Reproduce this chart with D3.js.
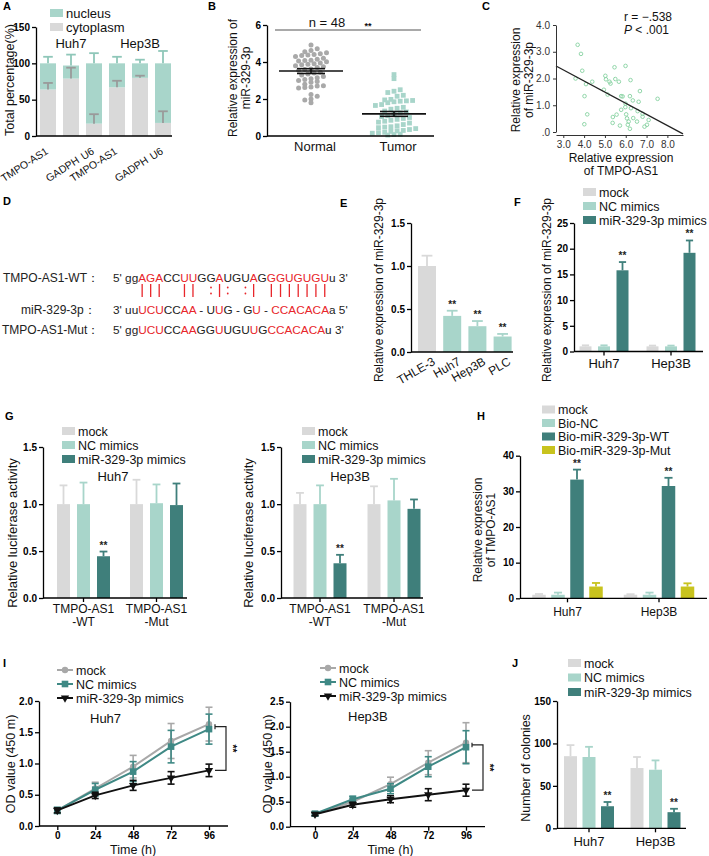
<!DOCTYPE html>
<html><head><meta charset="utf-8">
<script src="https://cdn.jsdelivr.net/npm/d3@7"></script>
<style>
body{margin:0;background:#fff;}
svg{display:block;}
text{white-space:pre;}
</style></head><body>
<svg id="c" width="709" height="856"></svg>
<script>
// ================= DATA =================
// A
const aCats = ["TMPO-AS1","GADPH","U6","TMPO-AS1","GADPH","U6"];
const aCells = ["Huh7","Hep3B"];
const aCyto = [64,79,17,67,80,18];
const aCytoErr = [9,15,13,9,3,16];
const aNuc = [36,18,83,33,20,82];
const aNucErr = [9,15,14,9,5,17];
const aTicks = [0,50,100,150];
// B
const bCats = ["Normal","Tumor"];
const bNormal = [4.92,4.72,4.62,4.55,4.5,4.45,4.4,4.38,4.35,4.3,4.2,4.15,4.1,4.08,4.05,4.02,3.95,3.9,3.88,3.85,3.8,3.75,3.7,3.62,3.6,3.55,3.45,3.4,3.35,3.3,3.22,3.15,3.1,3.05,3.0,2.95,2.9,2.8,2.72,2.7,2.65,2.62,2.6,2.25,2.15,2.0,1.95,1.8];
const bTumor = [3.32,3.1,2.5,2.42,2.35,2.2,2.15,1.98,1.95,1.92,1.9,1.88,1.85,1.8,1.7,1.65,1.55,1.5,1.45,1.35,1.3,1.25,1.2,1.1,1.05,1.0,0.95,0.9,0.85,0.8,0.75,0.7,0.62,0.55,0.5,0.48,0.45,0.4,0.35,0.3,0.28,0.25,0.2,0.18,0.15,0.1,0.08,0.05];
const bSem = [0.13,0.13];
const bTicks = [0,2,4,6];
// C
const cTmpo = [3.69,3.85,3.91,3.59,4.09,4.39,4.02,4.15,4.01,5.02,5.05,5.22,5.27,5.46,5.5,5.67,5.99,6.23,4.95,5.13,5.78,5.85,6.2,6.68,6.34,6.62,7.53,5.99,5.78,5.98,6.25,6.57,6.81,6.81,5.38,5.37,5.72,6.06,6.14,6.1,6.2,6.54,6.9,7.02,7.1,6.02,6.36,5.56];
const cMir  = [3.26,2.92,2.29,2.0,1.79,1.88,1.34,0.66,0.29,2.1,1.97,1.88,1.81,2.42,1.98,1.88,2.47,1.94,1.58,1.4,1.34,1.33,1.34,1.53,1.18,1.13,1.24,1.06,0.83,0.93,0.89,0.78,0.68,0.57,0.56,0.34,0.24,0.51,0.39,0.27,0.12,0.39,0.2,0.27,0.45,0.66,0.52,0.65];
const cFit = [3.57,-0.416]; // intercept, slope
const cXTicks = [3,4,5,6,7,8];
const cYTicks = [0,1,2,3,4];
// D
const dWT  = [["5' gg",0],["AGA",1],["CC",0],["UU",1],["GG",0],["A",1],["UGU",0],["A",1],["G",0],["GGUGUGU",1],["u 3'",0]];
const dMir = [["3' uu",0],["UCU",1],["CC",0],["AA",1],[" - U",0],["U",1],["G - G",0],["U",1],[" - ",0],["CCACACA",1],["a 5'",0]];
const dMut = [["5' gg",0],["UCU",1],["CC",0],["AA",1],["GG",0],["U",1],["UGU",0],["U",1],["G",0],["CCACACA",1],["u 3'",0]];
const dPairs = ["|","|","|"," "," ","|","|"," ",":","|",":"," ",":","|"," ","|","|","|","|","|","|","|"];
// E
const eCats = ["THLE-3","Huh7","Hep3B","PLC"];
const eVals = [1.0,0.42,0.30,0.18];
const eErr = [0.12,0.06,0.06,0.03];
const eTicks = [0,0.5,1.0,1.5];
// F
const fGroups = ["Huh7","Hep3B"];
const fSeries = ["mock","NC mimics","miR-329-3p mimics"];
const fVals = [[1,1,15.8],[1,1,19.2]];
const fErr = [[0.2,0.2,1.6],[0.15,0.15,2.4]];
const fTicks = [0,5,10,15,20,25];
// G
const gGroups = ["TMPO-AS1\n-WT","TMPO-AS1\n-Mut"];
const gSeries = ["mock","NC mimics","miR-329-3p mimics"];
const gHuh7Vals = [[1,1,0.445],[1,1.01,0.99]];
const gHuh7Err  = [[0.2,0.23,0.05],[0.26,0.2,0.23]];
const gHep3bVals = [[1,1,0.37],[1,1.04,0.95]];
const gHep3bErr  = [[0.12,0.2,0.09],[0.19,0.23,0.1]];
const gTicks = [0,0.5,1.0,1.5];
// H
const hGroups = ["Huh7","Hep3B"];
const hSeries = ["mock","Bio-NC","Bio-miR-329-3p-WT","Bio-miR-329-3p-Mut"];
const hVals = [[1,1,33.3,3.3],[1,1,31.5,3.3]];
const hErr  = [[0.2,0.6,2.8,1.0],[0.15,0.6,2.3,0.9]];
const hTicks = [0,10,20,30,40];
// I
const iTimes = [0,24,48,72,96];
const iSeries = ["mock","NC mimics","miR-329-3p mimics"];
const iHuh7Mock = [0.25,0.6,0.95,1.36,1.63];   const iHuh7MockErr = [0.04,0.1,0.18,0.28,0.27];
const iHuh7NC   = [0.25,0.58,0.87,1.27,1.55];  const iHuh7NCErr   = [0.05,0.1,0.16,0.26,0.24];
const iHuh7Mir  = [0.25,0.49,0.65,0.77,0.89];  const iHuh7MirErr  = [0.04,0.05,0.08,0.1,0.1];
const iHep3bMock = [0.25,0.5,0.85,1.28,1.68];  const iHep3bMockErr = [0.03,0.06,0.14,0.24,0.4];
const iHep3bNC   = [0.26,0.55,0.76,1.2,1.59];  const iHep3bNCErr   = [0.04,0.06,0.1,0.2,0.33];
const iHep3bMir  = [0.25,0.44,0.55,0.64,0.73]; const iHep3bMirErr  = [0.03,0.05,0.07,0.12,0.12];
const iTicksHuh7 = [0,0.5,1.0,1.5,2.0];
const iTicksHep3b = [0,0.5,1.0,1.5,2.0,2.5];
// J
const jGroups = ["Huh7","Hep3B"];
const jVals = [[85,84,26],[71,69,19]];
const jErr  = [[13,12,5],[13,11,4]];
const jTicks = [0,50,100,150];

// ================= STYLE =================
const FONT = '"Liberation Sans", Arial, Helvetica, sans-serif';
const GREY = "#d9d9d9", MINT = "#a8d5ca", TEAL = "#3f7f7b", OLIVE = "#c8c31e", RED = "#e8262b";
const svg = d3.select("#c").attr("font-family", FONT);
const fmtInt = d3.format("d"), fmt1 = d3.format(".1f");

function txt(g, x, y, s, o = {}) {
  const t = g.append("text").attr("x", x).attr("y", y).text(s)
    .attr("font-size", o.fs || 12).attr("fill", o.fill || "#111")
    .attr("text-anchor", o.anchor || "start");
  if (o.fw) t.attr("font-weight", o.fw);
  if (o.tr) t.attr("transform", o.tr);
  return t;
}
function vlabel(g, bx, cy, s, fs) {
  return g.append("text").attr("transform", `translate(${bx},${cy}) rotate(-90)`)
    .attr("text-anchor", "middle").attr("font-size", fs || 12).attr("fill", "#111").text(s);
}
function letter(x, y, s) { txt(svg, x, y, s, {fs: 11, fw: "bold", fill: "#000"}); }
function yAxis(g, scale, x, ticks, fmt, o = {}) {
  const ax = d3.axisLeft(scale).tickValues(ticks).tickSize(o.ts || 4).tickSizeOuter(0).tickPadding(2).tickFormat(fmt || fmtInt);
  const s = g.append("g").attr("transform", `translate(${x},0)`).call(ax);
  s.attr("font-family", FONT).attr("font-size", o.fs || 10).attr("font-weight", o.fw || "bold");
  s.select(".domain").attr("stroke", "#000").attr("stroke-width", 1.3);
  s.selectAll(".tick line").attr("stroke", "#000").attr("stroke-width", 1.3);
  s.selectAll(".tick text").attr("fill", "#000");
  return s;
}
function xLine(g, x0, x1, y, ticksAt) {
  g.append("line").attr("x1", x0).attr("x2", x1).attr("y1", y).attr("y2", y)
    .attr("stroke", "#000").attr("stroke-width", 1.3);
  (ticksAt || []).forEach(t => g.append("line").attr("x1", t).attr("x2", t).attr("y1", y).attr("y2", y + 4)
    .attr("stroke", "#000").attr("stroke-width", 1.3));
}
function legendRects(g, x, y0, dy, names, colors, fs) {
  names.forEach((n, i) => {
    const yc = y0 + i * dy;
    g.append("rect").attr("x", x).attr("y", yc - 4).attr("width", 13).attr("height", 8).attr("fill", colors[i]);
    txt(g, x + 16, yc + 4.5, n, {fs: fs || 12});
  });
}
function errBar(g, x, yv, ye, w, col) {
  g.append("line").attr("x1", x).attr("x2", x).attr("y1", yv).attr("y2", ye).attr("stroke", col).attr("stroke-width", 1.8);
  g.append("line").attr("x1", x - w / 2).attr("x2", x + w / 2).attr("y1", ye).attr("y2", ye).attr("stroke", col).attr("stroke-width", 1.8);
}
function stars(g, x, y) { txt(g, x, y, "**", {fs: 10, anchor: "middle", fw: "bold", fill: "#222"}); }

function groupedBars(o) {
  const g = svg.append("g");
  const gx = d3.scalePoint().domain(o.groups).range(o.centers);
  const L = o.step * o.series.length, p = 1 - o.bw / o.step;
  const sx = d3.scaleBand().domain(o.series).range([-L / 2, L / 2]).paddingInner(p).paddingOuter(p / 2);
  o.groups.forEach((grp, gi) => {
    o.series.forEach((s, si) => {
      const v = o.vals[gi][si], e = o.errs[gi][si];
      const x = gx(grp) + sx(s), cx = x + sx.bandwidth() / 2;
      g.append("rect").attr("x", x).attr("y", o.y(v)).attr("width", sx.bandwidth())
        .attr("height", o.y(0) - o.y(v)).attr("fill", o.colors[si]);
      errBar(g, cx, o.y(v), o.y(v + e), sx.bandwidth() * 0.6, o.colors[si]);
      if (o.sig && o.sig[si]) stars(g, cx, o.y(v + e) - 3);
    });
  });
  yAxis(g, o.y, o.axisX0, o.ticks, o.fmt);
  xLine(g, o.axisX0, o.axisX1, o.y(0), o.groups.map(d => gx(d)));
  o.groups.forEach(grp => {
    grp.split("\n").forEach((ln, li) => txt(g, gx(grp), o.labelY + li * 13, ln, {fs: o.labelFs || 12, anchor: "middle"}));
  });
  return g;
}

// ================= PANEL A =================
{
  const g = svg.append("g");
  letter(3, 10, "A");
  const y = d3.scaleLinear().domain([0, 150]).range([136, 27]);
  const x = d3.scaleBand().domain(d3.range(aCats.length)).range([36.5, 174.5]).paddingInner(1 - 16 / 23).paddingOuter((1 - 16 / 23) / 2);
  aCats.forEach((c, i) => {
    const bx = x(i), bw = x.bandwidth(), cx = bx + bw / 2;
    const cy = aCyto[i], tot = aCyto[i] + aNuc[i];
    g.append("rect").attr("x", bx).attr("y", y(cy)).attr("width", bw).attr("height", y(0) - y(cy)).attr("fill", GREY);
    g.append("rect").attr("x", bx).attr("y", y(tot)).attr("width", bw).attr("height", y(cy) - y(tot)).attr("fill", MINT);
    errBar(g, cx, y(tot), y(tot + aNucErr[i]), bw * 0.6, "#8fc7b9");
    errBar(g, cx, y(cy), y(cy + aCytoErr[i]), bw * 0.6, "#9a9a9a");
    const isG = c === "GADPH";
    txt(g, 0, 0, c, {fs: 10.5, anchor: "end", tr: `translate(${cx + (isG ? 9 : 1)},${isG ? 162 : 153}) rotate(-33)`});
  });
  yAxis(g, y, 36, aTicks);
  xLine(g, 36, 172, 136);
  vlabel(g, 14, 80, "Total percentage(%)", 12.5);
  txt(g, (x(0) + x(2) + x.bandwidth()) / 2, 48, aCells[0], {fs: 13, anchor: "middle"});
  txt(g, (x(3) + x(5) + x.bandwidth()) / 2, 48, aCells[1], {fs: 13, anchor: "middle"});
  legendRects(g, 50, 13, 14, ["nucleus", "cytoplasm"], [MINT, GREY], 13);
}

// ================= PANEL B =================
{
  const g = svg.append("g");
  letter(208, 10, "B");
  const y = d3.scaleLinear().domain([0, 6]).range([136, 25]);
  const x = d3.scalePoint().domain(bCats).range([311, 394]);
  function swarm(vals, bin, dx) {
    const grouped = d3.group(vals, v => Math.round(v / bin));
    const out = [];
    for (const [, arr] of grouped) {
      const n = arr.length;
      arr.slice().sort((a, b) => a - b).forEach((v, j) => out.push({v, off: (j - (n - 1) / 2) * dx}));
    }
    return out;
  }
  swarm(bNormal, 0.26, 6.2).forEach(d => g.append("circle").attr("cx", x("Normal") + d.off).attr("cy", y(d.v)).attr("r", 2.5).attr("fill", "#a9a9a9"));
  swarm(bTumor, 0.3, 6.2).forEach(d => g.append("rect").attr("x", x("Tumor") + d.off - 2.4).attr("y", y(d.v) - 2.4).attr("width", 4.8).attr("height", 4.8).attr("fill", MINT));
  [bNormal, bTumor].forEach((arr, i) => {
    const cx = x(bCats[i]), m = d3.mean(arr), s = bSem[i];
    g.append("line").attr("x1", cx - 32).attr("x2", cx + 32).attr("y1", y(m)).attr("y2", y(m)).attr("stroke", "#111").attr("stroke-width", 1.6);
    g.append("line").attr("x1", cx).attr("x2", cx).attr("y1", y(m - s)).attr("y2", y(m + s)).attr("stroke", "#111").attr("stroke-width", 1.6);
    [m - s, m + s].forEach(v => g.append("line").attr("x1", cx - 14).attr("x2", cx + 14).attr("y1", y(v)).attr("y2", y(v)).attr("stroke", "#111").attr("stroke-width", 1.6));
  });
  yAxis(g, y, 267, bTicks);
  xLine(g, 267, 434, 136);
  bCats.forEach(c => txt(g, x(c) + 4, 151, c, {fs: 13, anchor: "middle"}));
  g.append("line").attr("x1", 275).attr("x2", 421).attr("y1", 30).attr("y2", 30).attr("stroke", "#555").attr("stroke-width", 1.2);
  txt(g, 327, 27, "n = 48", {fs: 13, anchor: "middle"});
  txt(g, 368, 29, "**", {fs: 9, anchor: "middle", fw: "bold"});
  vlabel(g, 237, 78, "Relative expression of", 12);
  vlabel(g, 250, 78, "miR-329-3p", 12);
}

// ================= PANEL C =================
{
  const g = svg.append("g");
  letter(482, 10, "C");
  const x = d3.scaleLinear().domain([2.65, 8.75]).range([556, 683]);
  const y = d3.scaleLinear().domain([0, 4]).range([132, 25]);
  cTmpo.forEach((v, i) => g.append("circle").attr("cx", x(v)).attr("cy", y(cMir[i])).attr("r", 1.8)
    .attr("fill", "none").attr("stroke", "#86d1a0").attr("stroke-width", 0.9));
  const xs = x.domain();
  g.append("line").attr("x1", x(xs[0])).attr("x2", x(xs[1]))
    .attr("y1", y(cFit[0] + cFit[1] * xs[0])).attr("y2", y(cFit[0] + cFit[1] * xs[1]))
    .attr("stroke", "#222").attr("stroke-width", 1.3);
  const ya = d3.axisLeft(y).tickValues(cYTicks).tickSize(3).tickSizeOuter(0).tickFormat(d => d === 0 ? ".0" : d.toFixed(1));
  const ys = g.append("g").attr("transform", "translate(556,0)").call(ya).attr("font-family", FONT).attr("font-size", 10);
  ys.selectAll("path,line").attr("stroke", "#333");
  ys.selectAll("text").attr("fill", "#333");
  const xa = d3.axisBottom(x).tickValues(cXTicks).tickSize(3).tickSizeOuter(0).tickFormat(d => d.toFixed(1));
  const xsx = g.append("g").attr("transform", "translate(0,135)").call(xa).attr("font-family", FONT).attr("font-size", 10);
  xsx.selectAll("path,line").attr("stroke", "#333");
  xsx.selectAll("text").attr("fill", "#333");
  txt(g, 624, 21, "r = \u2212.538", {fs: 12});
  const t = txt(g, 624, 34, "", {fs: 12});
  t.append("tspan").attr("font-style", "italic").text("P");
  t.append("tspan").text(" < .001");
  vlabel(g, 520, 80, "Relative expression", 12);
  vlabel(g, 533, 80, "of miR-329-3p", 12);
  txt(g, 621, 162, "Relative expression", {fs: 12, anchor: "middle"});
  txt(g, 621, 175, "of TMPO-AS1", {fs: 12, anchor: "middle"});
}

// ================= PANEL D =================
{
  const g = svg.append("g");
  letter(3, 205, "D");
  txt(g, 3, 282, "TMPO-AS1-WT\uFF1A", {fs: 12, fill: "#222"});
  txt(g, 21, 314, "miR-329-3p\uFF1A", {fs: 12, fill: "#222"});
  txt(g, 2, 334, "TMPO-AS1-Mut\uFF1A", {fs: 12, fill: "#222"});
  function seq(y, parts) {
    const t = g.append("text").attr("x", 113).attr("y", y).attr("font-size", 11.8);
    parts.forEach(([s, c]) => t.append("tspan").text(s).attr("fill", c ? RED : "#222"));
    return t;
  }
  const wt = seq(282, dWT);
  seq(314, dMir);
  seq(334, dMut);
  const node = wt.node();
  dPairs.forEach((p, j) => {
    if (p === " ") return;
    const e = node.getExtentOfChar(5 + j);
    const cx = e.x + e.width / 2;
    if (p === "|") g.append("line").attr("x1", cx).attr("x2", cx).attr("y1", 284).attr("y2", 297).attr("stroke", RED).attr("stroke-width", 1.3);
    else [287.5, 293.5].forEach(yy => g.append("circle").attr("cx", cx).attr("cy", yy).attr("r", 0.9).attr("fill", RED));
  });
}

// ================= PANEL E =================
{
  const g = svg.append("g");
  letter(340, 207, "E");
  const y = d3.scaleLinear().domain([0, 1.5]).range([352, 223]);
  const x = d3.scaleBand().domain(eCats).range([414.4, 515.2]).paddingInner(1 - 18 / 25.2).paddingOuter((1 - 18 / 25.2) / 2);
  eCats.forEach((c, i) => {
    const col = i === 0 ? GREY : MINT, bx = x(c), bw = x.bandwidth(), cx = bx + bw / 2;
    g.append("rect").attr("x", bx).attr("y", y(eVals[i])).attr("width", bw).attr("height", y(0) - y(eVals[i])).attr("fill", col);
    errBar(g, cx, y(eVals[i]), y(eVals[i] + eErr[i]), bw * 0.6, col);
    if (i > 0) stars(g, cx, y(eVals[i] + eErr[i]) - 3);
    txt(g, 0, 0, c, {fs: 12, anchor: "end", tr: `translate(${cx + 9},${364}) rotate(-30)`});
  });
  yAxis(g, y, 411, eTicks, fmt1);
  xLine(g, 411, 513, 352);
  vlabel(g, 383, 290, "Relative expression of miR-329-3p", 12);
}

// ================= PANEL F =================
{
  letter(514, 206, "F");
  const y = d3.scaleLinear().domain([0, 25]).range([351.5, 223]);
  const g = groupedBars({groups: fGroups, series: fSeries, vals: fVals, errs: fErr, colors: [GREY, MINT, TEAL],
    sig: [0, 0, 1], y, centers: [604, 671], step: 18.5, bw: 12, axisX0: 574, axisX1: 703, ticks: fTicks, labelY: 368, labelFs: 13});
  legendRects(g, 583, 192, 14, fSeries, [GREY, MINT, TEAL], 12.5);
  vlabel(g, 551, 290, "Relative expression of miR-329-3p", 12);
}

// ================= PANEL G =================
{
  letter(5, 420, "G");
  const yL = d3.scaleLinear().domain([0, 1.3, 1.5]).range([598, 476, 447]);
  const gl = groupedBars({groups: gGroups, series: gSeries, vals: gHuh7Vals, errs: gHuh7Err, colors: [GREY, MINT, TEAL],
    sig: [0, 0, 0], y: yL, centers: [83.5, 156.5], step: 20, bw: 13, axisX0: 43, axisX1: 187, ticks: gTicks, fmt: fmt1, labelY: 613});
  stars(gl, 83.5 + 20, yL(gHuh7Vals[0][2] + gHuh7Err[0][2]) - 3);
  legendRects(gl, 62, 431, 14, gSeries, [GREY, MINT, TEAL], 12.5);
  txt(gl, 113, 481, "Huh7", {fs: 13, anchor: "middle"});
  vlabel(gl, 17, 533, "Relative luciferase activity", 13);

  const gr = groupedBars({groups: gGroups, series: gSeries, vals: gHep3bVals, errs: gHep3bErr, colors: [GREY, MINT, TEAL],
    sig: [0, 0, 0], y: yL, centers: [320, 394], step: 20, bw: 13, axisX0: 281, axisX1: 423, ticks: gTicks, fmt: fmt1, labelY: 613});
  stars(gr, 320 + 20, yL(gHep3bVals[0][2] + gHep3bErr[0][2]) - 3);
  legendRects(gr, 302, 431, 14, gSeries, [GREY, MINT, TEAL], 12.5);
  txt(gr, 350, 481, "Hep3B", {fs: 13, anchor: "middle"});
  vlabel(gr, 253, 533, "Relative luciferase activity", 13);
}

// ================= PANEL H =================
{
  letter(477, 420, "H");
  const y = d3.scaleLinear().domain([0, 40]).range([598.3, 455.7]);
  const g = groupedBars({groups: hGroups, series: hSeries, vals: hVals, errs: hErr, colors: [GREY, MINT, TEAL, OLIVE],
    sig: [0, 0, 1, 0], y, centers: [567.5, 659], step: 19, bw: 13.5, axisX0: 520, axisX1: 707, ticks: hTicks, labelY: 616});
  legendRects(g, 542, 409.5, 13.5, hSeries, [GREY, MINT, TEAL, OLIVE], 12.5);
  vlabel(g, 482, 530, "Relative expression", 12);
  vlabel(g, 495, 530, "of TMPO-AS1", 12);
}

// ================= PANEL I =================
function growth(o) {
  const g = svg.append("g");
  const x = d3.scaleLinear().domain([0, 96]).range(o.xr);
  const y = d3.scaleLinear().domain([0, o.ymax]).range(o.yr);
  const cols = ["#a8a8a8", "#3f8985", "#111"];
  const sets = [[o.mock, o.mockErr], [o.nc, o.ncErr], [o.mir, o.mirErr]];
  const line = d3.line().x((d, i) => x(iTimes[i])).y(d => y(d));
  const marker = (gg, si, cx, cy) => {
    if (si === 0) gg.append("circle").attr("cx", cx).attr("cy", cy).attr("r", 3.2).attr("fill", cols[0]);
    else if (si === 1) gg.append("rect").attr("x", cx - 3.3).attr("y", cy - 3.3).attr("width", 6.6).attr("height", 6.6).attr("fill", cols[1]);
    else gg.append("path").attr("d", d3.symbol(d3.symbolTriangle, 30)()).attr("transform", `translate(${cx},${cy}) rotate(180)`).attr("fill", cols[2]);
  };
  sets.forEach(([vals, errs], si) => {
    vals.forEach((v, i) => {
      const cx = x(iTimes[i]);
      g.append("line").attr("x1", cx).attr("x2", cx).attr("y1", y(v - errs[i])).attr("y2", y(v + errs[i])).attr("stroke", cols[si]).attr("stroke-width", 1.6);
      [v - errs[i], v + errs[i]].forEach(e => g.append("line").attr("x1", cx - 3.5).attr("x2", cx + 3.5).attr("y1", y(e)).attr("y2", y(e)).attr("stroke", cols[si]).attr("stroke-width", 1.6));
    });
    g.append("path").attr("d", line(vals)).attr("fill", "none").attr("stroke", cols[si]).attr("stroke-width", 2);
    vals.forEach((v, i) => marker(g, si, x(iTimes[i]), y(v)));
  });
  yAxis(g, y, o.ax, o.ticks, fmt1);
  const xa = d3.axisBottom(x).tickValues(iTimes).tickSize(4).tickSizeOuter(0).tickPadding(1.5);
  const xs = g.append("g").attr("transform", `translate(0,${o.yr[0]})`).call(xa).attr("font-family", FONT).attr("font-size", 10).attr("font-weight", "bold");
  xs.select(".domain").remove();
  xs.selectAll("line").attr("stroke", "#000").attr("stroke-width", 1.3);
  xs.selectAll("text").attr("fill", "#000");
  xLine(g, o.ax, o.axEnd, o.yr[0]);
  txt(g, (x(0) + x(96)) / 2, 854, "Time (h)", {fs: 12.5, anchor: "middle"});
  vlabel(g, o.ylabX, 764, "OD value (450 m)", 12.5);
  txt(g, o.titleX, o.titleY, o.title, {fs: 13});
  const xb0 = x(96) + 6, xb1 = x(96) + 17;
  const top = (o.mock[4] + o.nc[4]) / 2, bot = o.mir[4];
  g.append("line").attr("x1", xb0).attr("x2", xb0).attr("y1", y(o.mock[4])).attr("y2", y(o.nc[4])).attr("stroke", "#222").attr("stroke-width", 1.2);
  g.append("path").attr("d", `M${xb0},${y(top)}H${xb1}V${y(bot)}H${xb0}`).attr("fill", "none").attr("stroke", "#222").attr("stroke-width", 1.2);
  txt(g, 0, 0, "**", {fs: 10, anchor: "middle", fw: "bold", tr: `translate(${xb1 + 3},${(y(top) + y(bot)) / 2}) rotate(90)`});
  iSeries.forEach((n, si) => {
    const yc = o.legY + si * 14;
    g.append("line").attr("x1", o.legX).attr("x2", o.legX + 16).attr("y1", yc).attr("y2", yc).attr("stroke", cols[si]).attr("stroke-width", 2);
    marker(g, si, o.legX + 8, yc);
    txt(g, o.legX + 19, yc + 4.5, n, {fs: 12.5});
  });
}
letter(3, 667, "I");
growth({xr: [57.3, 209], yr: [826, 701], ymax: 2, ax: 39, axEnd: 228, ticks: iTicksHuh7,
  mock: iHuh7Mock, mockErr: iHuh7MockErr, nc: iHuh7NC, ncErr: iHuh7NCErr, mir: iHuh7Mir, mirErr: iHuh7MirErr,
  ylabX: 15, title: "Huh7", titleX: 90, titleY: 723, legX: 57, legY: 670});
growth({xr: [315, 466], yr: [826.7, 701.7], ymax: 2.5, ax: 290, axEnd: 485, ticks: iTicksHep3b,
  mock: iHep3bMock, mockErr: iHep3bMockErr, nc: iHep3bNC, ncErr: iHep3bNCErr, mir: iHep3bMir, mirErr: iHep3bMirErr,
  ylabX: 272, title: "Hep3B", titleX: 348, titleY: 721, legX: 320, legY: 668});

// ================= PANEL J =================
{
  letter(512, 667, "J");
  const y = d3.scaleLinear().domain([0, 150]).range([828.3, 701]);
  const g = groupedBars({groups: jGroups, series: iSeries, vals: jVals, errs: jErr, colors: [GREY, MINT, TEAL],
    sig: [0, 0, 1], y, centers: [589, 655.5], step: 18.5, bw: 13, axisX0: 557, axisX1: 686, ticks: jTicks, labelY: 846, labelFs: 13});
  legendRects(g, 568, 663, 14.5, iSeries, [GREY, MINT, TEAL], 12.5);
  vlabel(g, 530, 768, "Number of colonies", 12.5);
}
</script></body></html>
